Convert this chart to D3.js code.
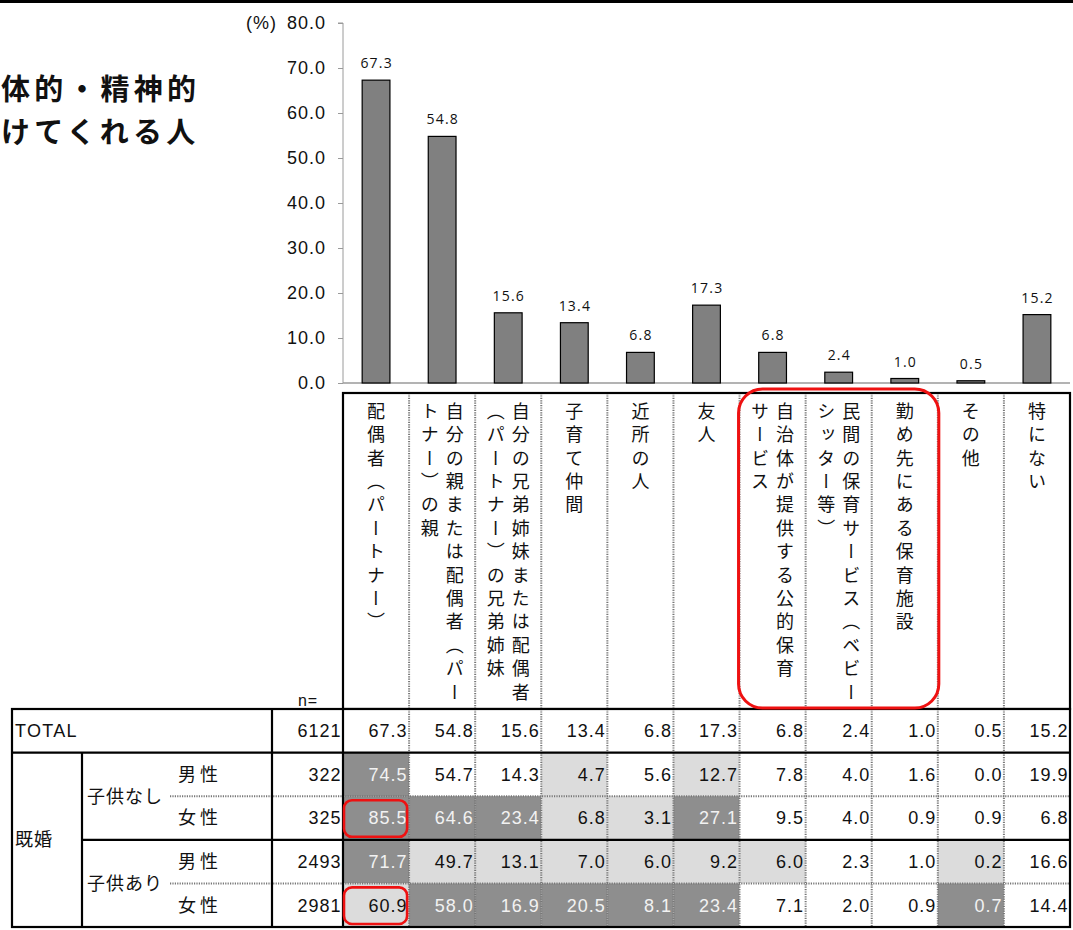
<!DOCTYPE html>
<html>
<head>
<meta charset="utf-8">
<script src="https://cdn.jsdelivr.net/npm/d3@7"></script>
<style>
  html, body { margin: 0; padding: 0; background: #fff; }
  svg { display: block; }
</style>
</head>
<body>
<svg id="chart" width="1073" height="930"></svg>
<script>
// ---------------- DATA ----------------
const categories = [
  "配偶者（パートナー）",
  "自分の親または配偶者（パートナー）の親",
  "自分の兄弟姉妹または配偶者（パートナー）の兄弟姉妹",
  "子育て仲間",
  "近所の人",
  "友人",
  "自治体が提供する公的保育サービス",
  "民間の保育サービス（ベビーシッター等）",
  "勤め先にある保育施設",
  "その他",
  "特にない"
];
// label as shown, split into vertical lines (first = rightmost)
const categoryLines = [
  ["配偶者（パートナー）"],
  ["自分の親または配偶者（パー", "トナー）の親"],
  ["自分の兄弟姉妹または配偶者", "（パートナー）の兄弟姉妹"],
  ["子育て仲間"],
  ["近所の人"],
  ["友人"],
  ["自治体が提供する公的保育", "サービス"],
  ["民間の保育サービス（ベビー", "シッター等）"],
  ["勤め先にある保育施設"],
  ["その他"],
  ["特にない"]
];
const totalValues = [67.3, 54.8, 15.6, 13.4, 6.8, 17.3, 6.8, 2.4, 1.0, 0.5, 15.2];
const yTickValues = [0, 10, 20, 30, 40, 50, 60, 70, 80];

const titleLines = ["体的・精神的", "けてくれる人"];

const rowKeys = ["TOTAL", "m_none", "f_none", "m_kids", "f_kids"];
const rowN = [6121, 322, 325, 2493, 2981];
const rowGender = ["", "男性", "女性", "男性", "女性"];
const groupLabels = ["子供なし", "子供あり"];
const maritalLabel = "既婚";
const rowValues = [
  [67.3, 54.8, 15.6, 13.4, 6.8, 17.3, 6.8, 2.4, 1.0, 0.5, 15.2],
  [74.5, 54.7, 14.3, 4.7, 5.6, 12.7, 7.8, 4.0, 1.6, 0.0, 19.9],
  [85.5, 64.6, 23.4, 6.8, 3.1, 27.1, 9.5, 4.0, 0.9, 0.9, 6.8],
  [71.7, 49.7, 13.1, 7.0, 6.0, 9.2, 6.0, 2.3, 1.0, 0.2, 16.6],
  [60.9, 58.0, 16.9, 20.5, 8.1, 23.4, 7.1, 2.0, 0.9, 0.7, 14.4]
];
// 2 = much higher, 1 = higher, 0 = none
const rowShade = [
  [0, 0, 0, 0, 0, 0, 0, 0, 0, 0, 0],
  [2, 0, 0, 1, 0, 1, 0, 0, 0, 0, 0],
  [2, 2, 2, 1, 1, 2, 0, 0, 0, 0, 0],
  [2, 1, 1, 1, 1, 1, 1, 0, 0, 1, 0],
  [1, 2, 2, 2, 2, 2, 0, 0, 0, 2, 0]
];
// highlighted cells [rowIndex, colIndex]
const highlightCells = [[2, 0], [4, 0]];
const highlightCols = [6, 8];

// ---------------- LAYOUT ----------------
const svg = d3.select("#chart");
const W = 1073, H = 930;
const plotLeft = 343, plotRight = 1070;
const plotTop = 23, plotBottom = 383;
const headTop = 393, headBottom = 709;
const tableTop = 709, tableBottom = 927;
const tableLeft = 12, col1 = 82, nLeft = 272;
const numFont = "'Liberation Sans', Arial, sans-serif";
const jpFont = "'Noto Sans CJK JP', 'Noto Sans', sans-serif";
const red = "#ee1111";
const numSize = 18, numSpacing = 1;

const y = d3.scaleLinear().domain([0, 80]).range([plotBottom, plotTop]);
const xBar = d3.scaleBand().domain(categories).range([plotLeft, plotRight])
  .paddingInner(0.58).paddingOuter(0.29);
const xCell = d3.scaleBand().domain(categories).range([plotLeft, plotRight]).padding(0);
const yRow = d3.scaleBand().domain(rowKeys).range([tableTop, tableBottom]).padding(0);

// top border line
svg.append("line").attr("x1", 0).attr("x2", W).attr("y1", 1.5).attr("y2", 1.5)
  .attr("stroke", "#000").attr("stroke-width", 3);

// title
svg.append("g").selectAll("text").data(titleLines).join("text")
  .attr("x", 1).attr("y", (d, i) => 100 + i * 43)
  .attr("text-anchor", "start")
  .attr("font-family", jpFont).attr("font-weight", 700)
  .attr("font-size", 29).attr("letter-spacing", 4.2)
  .attr("fill", "#111").text(d => d);

// y axis
const yAxis = d3.axisLeft(y).tickValues(yTickValues).tickFormat(d3.format(".1f"))
  .tickSize(5).tickPadding(12);
const gy = svg.append("g").attr("transform", `translate(${plotLeft},0)`).call(yAxis);
gy.select(".domain").attr("stroke", "#9a9a9a").attr("d", `M-5,${plotTop}H0V${plotBottom}`);
gy.selectAll(".tick line").attr("stroke", "#9a9a9a");
gy.selectAll(".tick text").attr("font-family", numFont).attr("font-size", numSize)
  .attr("letter-spacing", numSpacing).attr("fill", "#111");
svg.append("text").attr("x", 277).attr("y", y(80)).attr("dy", "0.35em")
  .attr("text-anchor", "end").attr("font-family", numFont).attr("font-size", numSize)
  .attr("letter-spacing", numSpacing).attr("fill", "#111").text("(%)");

// baseline
svg.append("line").attr("x1", plotLeft).attr("x2", plotRight)
  .attr("y1", y(0)).attr("y2", y(0)).attr("stroke", "#9a9a9a").attr("stroke-width", 1.5);

// bars
svg.append("g").selectAll("rect").data(categories).join("rect")
  .attr("x", d => xBar(d))
  .attr("y", (d, i) => y(totalValues[i]))
  .attr("width", xBar.bandwidth())
  .attr("height", (d, i) => y(0) - y(totalValues[i]))
  .attr("fill", "#808080").attr("stroke", "#000").attr("stroke-width", 1.2);

svg.append("g").selectAll("text").data(categories).join("text")
  .attr("x", d => xBar(d) + xBar.bandwidth() / 2 + 0.6)
  .attr("y", (d, i) => y(totalValues[i]) - 12)
  .attr("text-anchor", "middle")
  .attr("font-family", "'Open Sans', 'Noto Sans', sans-serif").attr("font-size", 14)
  .attr("letter-spacing", 1.2)
  .attr("fill", "#111").text((d, i) => totalValues[i].toFixed(1));

// ---------------- HEADER (vertical labels) ----------------
const head = svg.append("g");
head.selectAll("line.sep").data(categories.slice(1)).join("line")
  .attr("class", "sep")
  .attr("x1", d => xCell(d)).attr("x2", d => xCell(d))
  .attr("y1", headTop).attr("y2", headBottom)
  .attr("stroke", "#777").attr("stroke-width", 2).attr("stroke-dasharray", "1.2 1.2");

categoryLines.forEach((lines, ci) => {
  const cx = xCell(categories[ci]) + xCell.bandwidth() / 2;
  const n = lines.length;
  lines.forEach((ln, li) => {
    const off = n === 1 ? 0 : (li === 0 ? 12.5 : -12.5);
    head.append("text")
      .attr("x", cx + off).attr("y", 402)
      .style("writing-mode", "vertical-rl")
      .attr("font-family", jpFont).attr("font-size", 18)
      .attr("letter-spacing", 5.4)
      .attr("fill", "#111").text(ln);
  });
});
head.append("rect").attr("x", plotLeft).attr("y", headTop)
  .attr("width", plotRight - plotLeft).attr("height", headBottom - headTop)
  .attr("fill", "none").attr("stroke", "#000").attr("stroke-width", 2.2);

svg.append("text").attr("x", 308).attr("y", 700).attr("dy", "0.35em")
  .attr("text-anchor", "middle").attr("font-family", numFont).attr("font-size", 16)
  .attr("letter-spacing", 1).attr("fill", "#111").text("n=");

// ---------------- TABLE ----------------
const tbl = svg.append("g");
const shadeFill = ["#ffffff", "#dcdcdc", "#8e8e8e"];
const shadeText = ["#111", "#111", "#f2f2f2"];

rowKeys.forEach((rk, ri) => {
  const ry = yRow(rk), rh = yRow.bandwidth();
  const g = tbl.append("g");
  g.selectAll("rect").data(categories).join("rect")
    .attr("x", d => xCell(d)).attr("y", ry)
    .attr("width", xCell.bandwidth()).attr("height", rh)
    .attr("fill", (d, ci) => shadeFill[rowShade[ri][ci]]);
  g.selectAll("text").data(categories).join("text")
    .attr("x", d => xCell(d) + xCell.bandwidth() - 1.5)
    .attr("y", ry + rh / 2).attr("dy", "0.36em")
    .attr("text-anchor", "end").attr("font-family", numFont).attr("font-size", numSize)
    .attr("letter-spacing", numSpacing)
    .attr("fill", (d, ci) => shadeText[rowShade[ri][ci]])
    .text((d, ci) => rowValues[ri][ci].toFixed(1));
  tbl.append("text").attr("x", plotLeft - 1.5).attr("y", ry + rh / 2).attr("dy", "0.36em")
    .attr("text-anchor", "end").attr("font-family", numFont).attr("font-size", numSize)
    .attr("letter-spacing", numSpacing).attr("fill", "#111").text(rowN[ri]);
  if (rowGender[ri]) {
    tbl.append("text").attr("x", 178).attr("y", ry + rh / 2).attr("dy", "0.36em")
      .attr("font-family", jpFont).attr("font-size", 18).attr("letter-spacing", 4)
      .attr("fill", "#111").text(rowGender[ri]);
  }
});
tbl.append("text").attr("x", 15).attr("y", yRow("TOTAL") + yRow.bandwidth() / 2).attr("dy", "0.36em")
  .attr("font-family", numFont).attr("font-size", numSize).attr("letter-spacing", 1.3)
  .attr("fill", "#111").text("TOTAL");
tbl.append("text").attr("x", 15).attr("y", yRow("m_kids")).attr("dy", "0.36em")
  .attr("font-family", jpFont).attr("font-size", 18).attr("letter-spacing", 1)
  .attr("fill", "#111").text(maritalLabel);
groupLabels.forEach((gl, gi) => {
  const yy = yRow(rowKeys[1 + gi * 2 + 1]);
  tbl.append("text").attr("x", 87).attr("y", yy).attr("dy", "0.36em")
    .attr("font-family", jpFont).attr("font-size", 18).attr("letter-spacing", 1)
    .attr("fill", "#111").text(gl);
});

// dotted column separators in data area
tbl.selectAll("line.vsep").data(categories.slice(1)).join("line")
  .attr("class", "vsep")
  .attr("x1", d => xCell(d)).attr("x2", d => xCell(d))
  .attr("y1", tableTop).attr("y2", tableBottom)
  .attr("stroke", "#777").attr("stroke-width", 2).attr("stroke-dasharray", "1.2 1.2");
// dotted row separators (male / female)
tbl.selectAll("line.hsep").data([rowKeys[2], rowKeys[4]]).join("line")
  .attr("class", "hsep")
  .attr("x1", 170).attr("x2", plotRight)
  .attr("y1", d => yRow(d)).attr("y2", d => yRow(d))
  .attr("stroke", "#777").attr("stroke-width", 2).attr("stroke-dasharray", "1.2 1.2");
// solid lines
const solid = (x1, y1, x2, y2) => tbl.append("line")
  .attr("x1", x1).attr("y1", y1).attr("x2", x2).attr("y2", y2)
  .attr("stroke", "#000").attr("stroke-width", 2.2);
solid(tableLeft, yRow("m_none"), plotRight, yRow("m_none"));
solid(col1, yRow("m_kids"), plotRight, yRow("m_kids"));
solid(col1, yRow("m_none"), col1, tableBottom);
solid(nLeft, tableTop, nLeft, tableBottom);
solid(plotLeft, tableTop, plotLeft, tableBottom);
tbl.append("rect").attr("x", tableLeft).attr("y", tableTop)
  .attr("width", plotRight - tableLeft).attr("height", tableBottom - tableTop)
  .attr("fill", "none").attr("stroke", "#000").attr("stroke-width", 2.2);

// ---------------- RED HIGHLIGHTS ----------------
const hl = svg.append("g");
hl.append("rect")
  .attr("x", xCell(categories[highlightCols[0]]) - 1)
  .attr("y", 389)
  .attr("width", xCell(categories[highlightCols[1]]) + xCell.bandwidth() - xCell(categories[highlightCols[0]]) + 2)
  .attr("height", headBottom - 389 - 1)
  .attr("rx", 24).attr("ry", 24)
  .attr("fill", "none").attr("stroke", red).attr("stroke-width", 3);
highlightCells.forEach(([ri, ci]) => {
  hl.append("rect")
    .attr("x", xCell(categories[ci]) + 1)
    .attr("y", yRow(rowKeys[ri]) + 4)
    .attr("width", xCell.bandwidth() - 3)
    .attr("height", yRow.bandwidth() - 7)
    .attr("rx", 8).attr("ry", 8)
    .attr("fill", "none").attr("stroke", red).attr("stroke-width", 2.6);
});
</script>
</body>
</html>
